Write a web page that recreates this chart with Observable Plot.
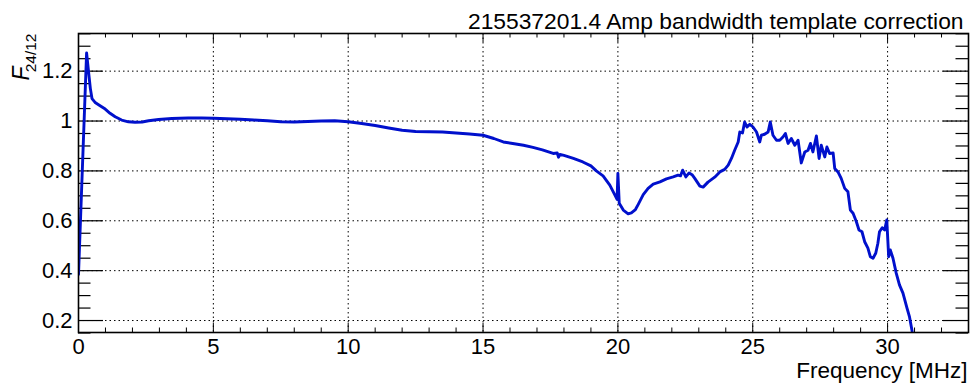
<!DOCTYPE html>
<html>
<head>
<meta charset="utf-8">
<script src="https://cdn.jsdelivr.net/npm/d3@7"></script>
<script src="https://cdn.jsdelivr.net/npm/@observablehq/plot@0.6"></script>
<style>
  html, body { margin: 0; padding: 0; background: #fff; }
  svg { display: block; }
</style>
</head>
<body>
<div id="chart"></div>
<script>
// ---- data ----
const freq = [
  0.0, 0.3, 0.38, 0.44, 0.5, 0.63, 0.815, 0.99, 1.17, 1.36, 1.6, 1.85, 2.1, 2.36, 2.6, 2.97, 3.46, 4.07, 4.57,
  5.0, 5.5, 6.0, 6.5, 7.0, 7.5, 8.0, 8.5, 9.0, 9.5, 10.0, 10.5, 11.0, 11.5, 12.0, 12.5, 13.0, 13.5, 14.0, 14.5,
  15.0, 15.4, 15.75, 16.1, 16.5, 16.85, 17.2, 17.6, 17.75, 17.8, 17.85, 18.0, 18.35, 18.7, 19.0, 19.2, 19.45,
  19.7, 19.89, 19.97, 20.0, 20.05, 20.2, 20.38, 20.5, 20.65, 20.75, 20.94, 21.12, 21.31, 21.56, 21.8, 22.05,
  22.23, 22.32, 22.4, 22.52, 22.64, 22.75, 22.85, 23.04, 23.16, 23.34, 23.59, 23.78, 23.96, 24.09, 24.21,
  24.33, 24.46, 24.52, 24.62, 24.7, 24.79, 24.89, 25.01, 25.14, 25.26, 25.32, 25.44, 25.57, 25.65, 25.75,
  25.88, 26.0, 26.12, 26.21, 26.31, 26.43, 26.56, 26.68, 26.8, 26.93, 27.05, 27.14, 27.23, 27.36, 27.46,
  27.54, 27.67, 27.75, 27.85, 27.98, 28.04, 28.16, 28.28, 28.41, 28.53, 28.62, 28.72, 28.84, 28.94, 29.05,
  29.15, 29.27, 29.36, 29.46, 29.56, 29.64, 29.7, 29.8, 29.89, 29.97, 30.04, 30.1, 30.2, 30.32, 30.44,
  30.57, 30.72, 30.81, 30.91, 31.0
];
const ratio = [
  0.385, 1.273, 1.19, 1.13, 1.09, 1.073, 1.06, 1.048, 1.031, 1.017, 1.004, 0.997, 0.995, 0.996, 1.001, 1.006, 1.01, 1.012, 1.012,
  1.011, 1.009, 1.007, 1.004, 1.001, 0.997, 0.996, 0.998, 1.0, 1.001, 0.997, 0.99, 0.982, 0.972, 0.963, 0.958, 0.957, 0.956, 0.952, 0.948,
  0.943, 0.93, 0.916, 0.91, 0.903, 0.894, 0.884, 0.87, 0.872, 0.855, 0.866, 0.862, 0.85, 0.836, 0.82, 0.8, 0.78,
  0.743, 0.703, 0.686, 0.79, 0.67, 0.643, 0.628, 0.632, 0.645, 0.665, 0.705, 0.73, 0.747, 0.756, 0.768, 0.776,
  0.783, 0.78, 0.803, 0.776, 0.792, 0.785, 0.77, 0.739, 0.735, 0.755, 0.775, 0.796, 0.806, 0.823, 0.85,
  0.883, 0.916, 0.956, 0.952, 0.996, 0.976, 0.987, 0.976, 0.956, 0.916, 0.943, 0.947, 0.956, 0.996, 0.943,
  0.923, 0.923, 0.936, 0.95, 0.91, 0.93, 0.903, 0.923, 0.832, 0.876, 0.883, 0.91, 0.876, 0.94, 0.85,
  0.903, 0.856, 0.896, 0.87, 0.872, 0.81, 0.796, 0.77, 0.73, 0.716, 0.643, 0.63, 0.597, 0.563, 0.556,
  0.516, 0.49, 0.456, 0.45, 0.47, 0.51, 0.556, 0.572, 0.563, 0.603, 0.456, 0.483, 0.45, 0.39, 0.343,
  0.31, 0.25, 0.216, 0.157, 0.12
];
const xMajorTicks = [0, 5, 10, 15, 20, 25, 30];
const xTickLabels = ["0", "5", "10", "15", "20", "25", "30"];
const xMinorTicks = d3.range(0, 34).filter(v => v % 5 !== 0);
const yMajorTicks = [0.2, 0.4, 0.6, 0.8, 1.0, 1.2];
const yTickLabels = ["0.2", "0.4", "0.6", "0.8", "1", "1.2"];
const yMinorTicks = d3.range(3, 28).map(i => +(i * 0.05).toFixed(2)).filter(v => Math.round(v * 100) % 20 !== 0);
const titleText = "215537201.4 Amp bandwidth template correction";
const xTitle = "Frequency [MHz]";
const yTitleMain = "F";
const yTitleSub = "24/12";

// ---- layout ----
const W = 970, H = 383;
const mL = 78, mR = 2, mT = 33, mB = 51;
const fw = W - mL - mR, fh = H - mT - mB;
const font = "'Liberation Sans', Arial, Helvetica, sans-serif";

const data = freq.map((f, i) => ({f, v: ratio[i]}));
const xLab = xMajorTicks.map((x, i) => ({x, t: xTickLabels[i]}));
const yLab = yMajorTicks.map((y, i) => ({y, t: yTickLabels[i]}));

const dots = "1.5,3";
const chart = Plot.plot({
  width: W, height: H,
  marginLeft: mL, marginRight: mR, marginTop: mT, marginBottom: mB,
  style: {fontFamily: font, background: "white", overflow: "visible"},
  x: {domain: [0, 33], axis: null},
  y: {domain: [0.152, 1.351], axis: null},
  marks: [
    // grid
    Plot.ruleX(xMajorTicks.filter(v => v > 0), {x: d => d, stroke: "black", strokeWidth: 1, strokeDasharray: dots}),
    Plot.ruleY(yMajorTicks, {y: d => d, stroke: "black", strokeWidth: 1, strokeDasharray: dots}),
    // ticks x (bottom/top)
    Plot.tickX(xMajorTicks, {x: d => d, insetTop: fh - 9, stroke: "black", strokeWidth: 1}),
    Plot.tickX(xMinorTicks, {x: d => d, insetTop: fh - 4.5, stroke: "black", strokeWidth: 1}),
    Plot.tickX(xMajorTicks, {x: d => d, insetBottom: fh - 9, stroke: "black", strokeWidth: 1}),
    Plot.tickX(xMinorTicks, {x: d => d, insetBottom: fh - 4.5, stroke: "black", strokeWidth: 1}),
    // ticks y (left/right)
    Plot.tickY(yMajorTicks, {y: d => d, insetRight: fw - 25, stroke: "black", strokeWidth: 1.2}),
    Plot.tickY(yMinorTicks, {y: d => d, insetRight: fw - 12.5, stroke: "black", strokeWidth: 1.2}),
    Plot.tickY(yMajorTicks, {y: d => d, insetLeft: fw - 25, stroke: "black", strokeWidth: 1.2}),
    Plot.tickY(yMinorTicks, {y: d => d, insetLeft: fw - 12.5, stroke: "black", strokeWidth: 1.2}),
    // curve
    Plot.line(data, {x: "f", y: "v", stroke: "#0010cc", strokeWidth: 2.9, clip: true, curve: "linear"}),
    // frame
    Plot.frame({stroke: "black", strokeWidth: 1.6}),
    // tick labels
    Plot.text(xLab, {x: "x", text: "t", frameAnchor: "bottom", dy: 14, lineAnchor: "middle", fontSize: 22, fill: "black"}),
    Plot.text(yLab, {y: "y", text: "t", frameAnchor: "left", dx: -6, textAnchor: "end", lineAnchor: "middle", fontSize: 22, fill: "black"}),
    // titles
    Plot.text([titleText], {text: d => d, frameAnchor: "top-right", textAnchor: "end", lineAnchor: "bottom", dx: -5, dy: -4.5, fontSize: 22.8, fill: "black"}),
    Plot.text([xTitle], {text: d => d, frameAnchor: "bottom-right", textAnchor: "end", lineAnchor: "bottom", dx: -1, dy: 45.5, fontSize: 22.5, fill: "black"}),
    Plot.text([yTitleMain], {text: d => d, frameAnchor: "top-left", rotate: -90, textAnchor: "end", lineAnchor: "bottom", dx: -50, dy: 33, fontSize: 23, fontStyle: "italic", fill: "black"}),
    Plot.text([yTitleSub], {text: d => d, frameAnchor: "top-left", rotate: -90, textAnchor: "end", lineAnchor: "bottom", dx: -43, dy: 0, fontSize: 15.5, fill: "black"})
  ]
});
document.getElementById("chart").appendChild(chart);
</script>
</body>
</html>
